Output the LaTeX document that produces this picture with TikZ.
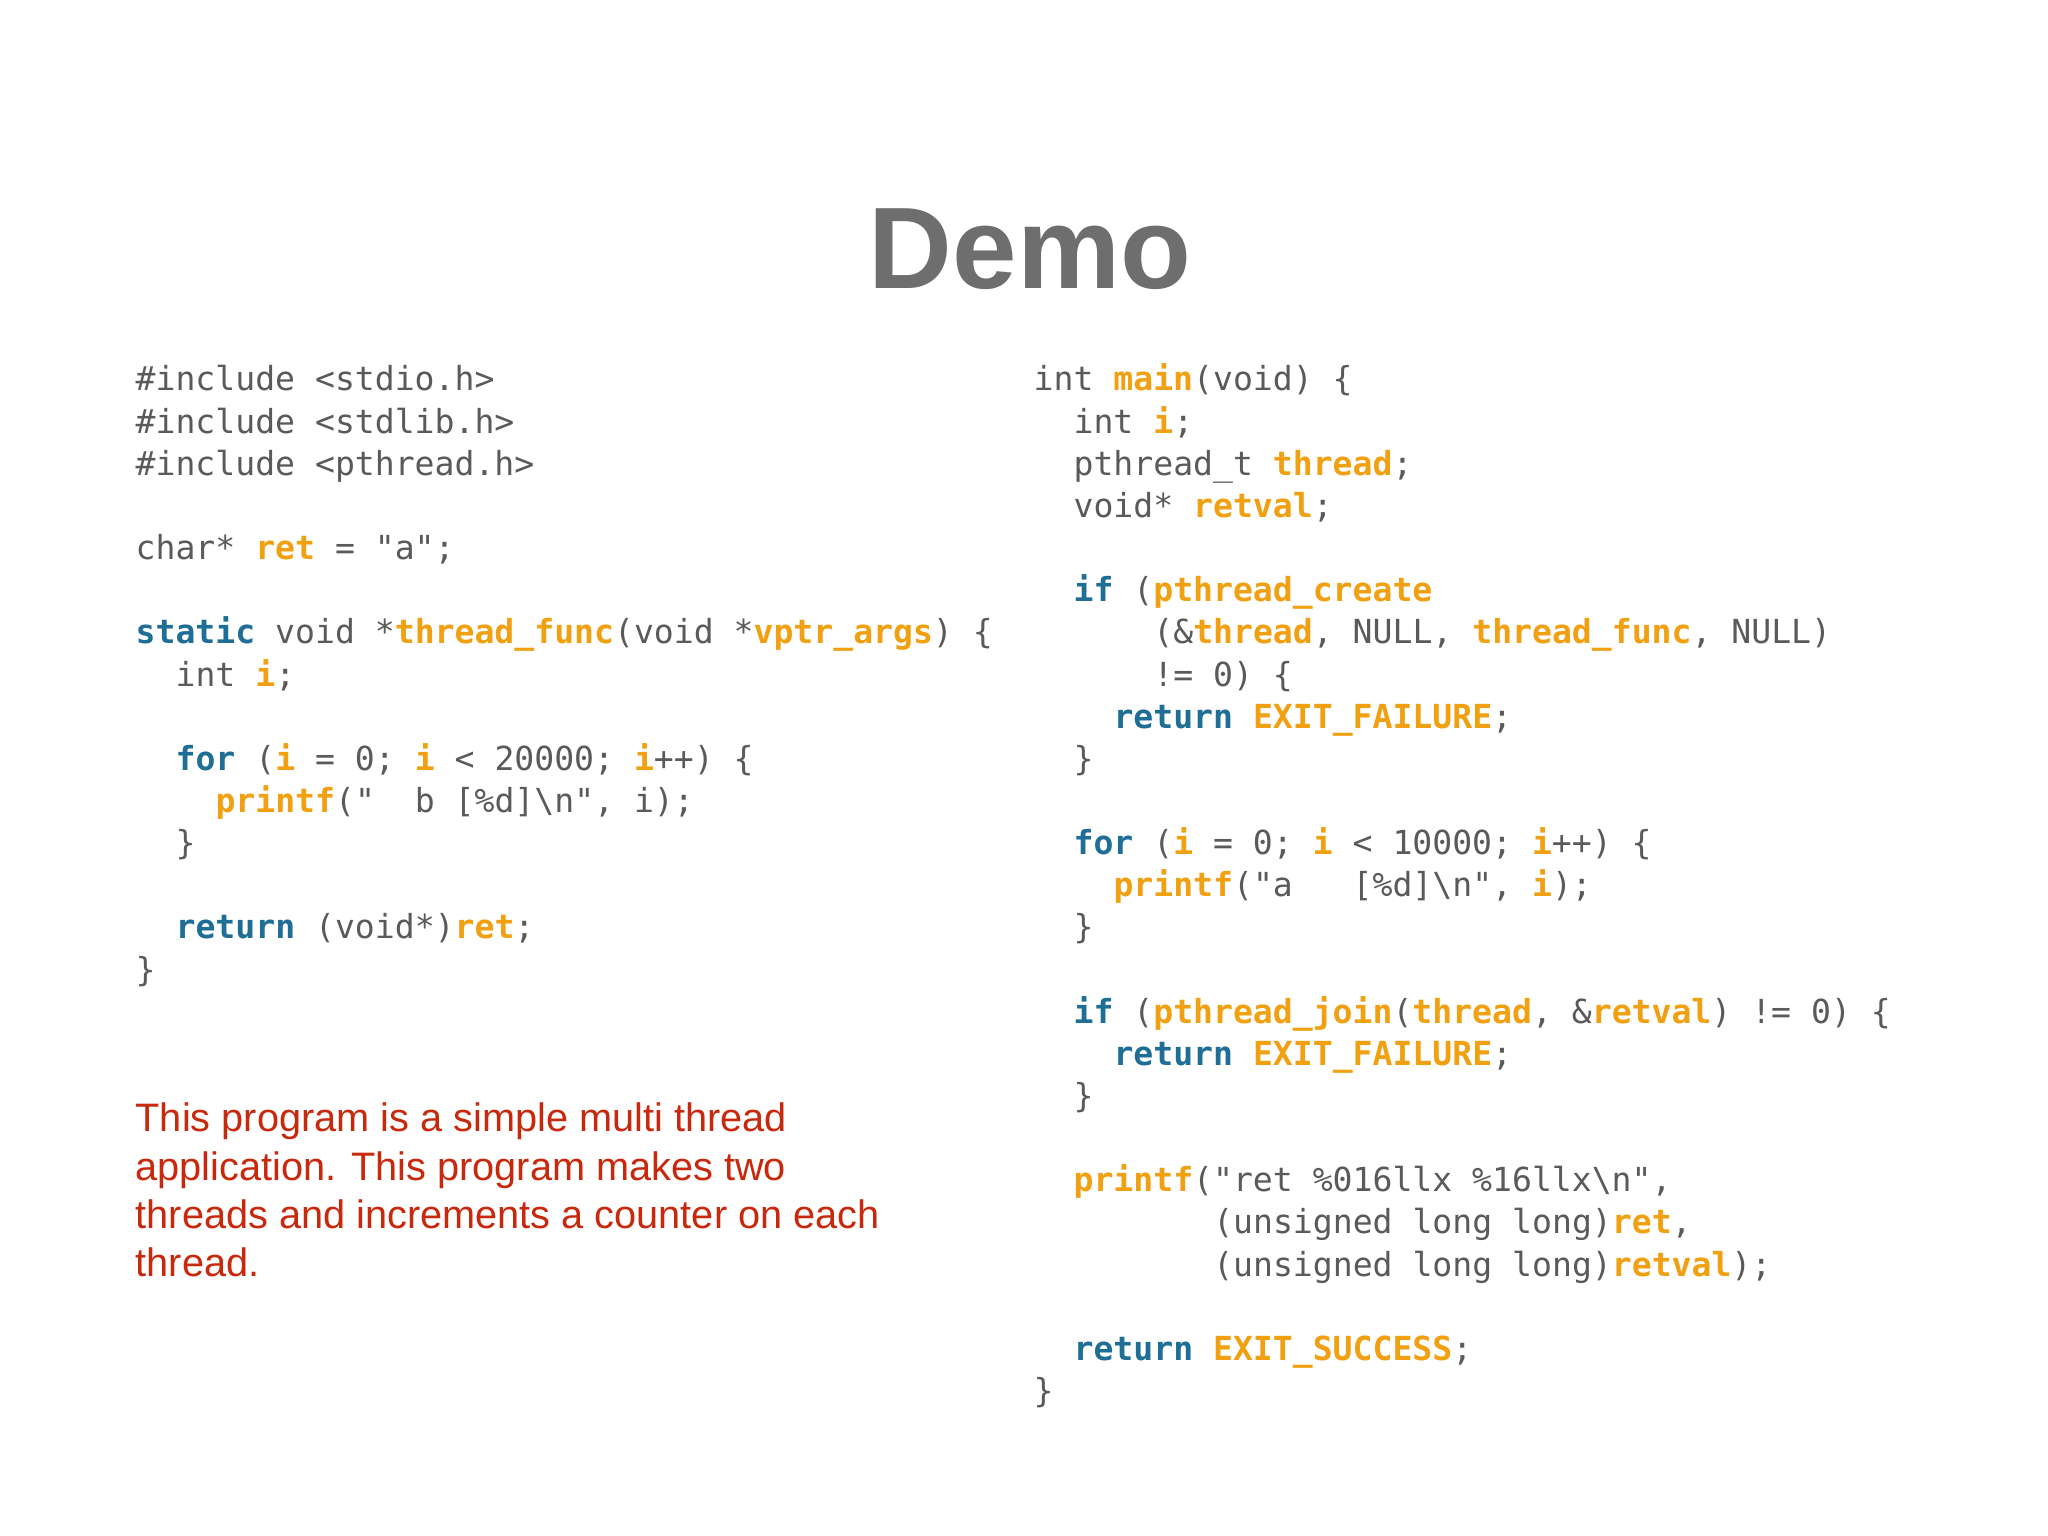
\documentclass[tikz,border=0pt]{standalone}
\usepackage{fontspec}
\setmainfont{Liberation Sans}
\setmonofont{DejaVu Sans Mono}
\definecolor{cgray}{HTML}{5A5A5A}
\definecolor{cblue}{HTML}{1F6E96}
\definecolor{corg}{HTML}{F0A010}
\definecolor{cred}{HTML}{C8280C}
\definecolor{ctitle}{HTML}{6E6E6E}
\newcommand\kw[1]{\textcolor{cblue}{\bfseries #1}}
\newcommand\vr[1]{\textcolor{corg}{\bfseries #1}}
\newcommand\cl[4]{\node[code] (#1) at ({#2},{11.45-0.4215*#3}) {#4};}
\tikzset{code/.style={anchor=base west,inner sep=0pt,font=\fontsize{9.42pt}{12pt}\ttfamily,text=cgray},
 para/.style={anchor=base west,inner sep=0pt,font=\fontsize{11.3pt}{13pt}\selectfont,text=cred}}
\begin{document}
\begin{tikzpicture}
\useasboundingbox (0,0) rectangle (20.48,15.36);
\fill[white] (0,0) rectangle (20.48,15.36);
\node[anchor=base,inner sep=0pt,font=\fontsize{33pt}{40pt}\bfseries\selectfont,text=ctitle] (title) at (10.3,12.47) {Demo};
\def\L{1.35}\def\R{10.33}\def\c{0.1995}
\cl{l0}{\L}{0}{\#include <stdio.h>}
\cl{l1}{\L}{1}{\#include <stdlib.h>}
\cl{l2}{\L}{2}{\#include <pthread.h>}
\cl{l4}{\L}{4}{char* \vr{ret} = "a";}
\cl{l6}{\L}{6}{\kw{static} void *\vr{thread\_func}(void *\vr{vptr\_args}) \{}
\cl{l7}{\L+2*\c}{7}{int \vr{i};}
\cl{l9}{\L+2*\c}{9}{\kw{for} (\vr{i} = 0; \vr{i} < 20000; \vr{i}++) \{}
\cl{l10}{\L+4*\c}{10}{\vr{printf}("\ \ b [\%d]\textbackslash n", i);}
\cl{l11}{\L+2*\c}{11}{\}}
\cl{l13}{\L+2*\c}{13}{\kw{return} (void*)\vr{ret};}
\cl{l14}{\L}{14}{\}}
\cl{r0}{\R}{0}{int \vr{main}(void) \{}
\cl{r1}{\R+2*\c}{1}{int \vr{i};}
\cl{r2}{\R+2*\c}{2}{pthread\_t \vr{thread};}
\cl{r3}{\R+2*\c}{3}{void* \vr{retval};}
\cl{r5}{\R+2*\c}{5}{\kw{if} (\vr{pthread\_create}}
\cl{r6}{\R+6*\c}{6}{(\&\vr{thread}, NULL, \vr{thread\_func}, NULL)}
\cl{r7}{\R+6*\c}{7}{!= 0) \{}
\cl{r8}{\R+4*\c}{8}{\kw{return} \vr{EXIT\_FAILURE};}
\cl{r9}{\R+2*\c}{9}{\}}
\cl{r11}{\R+2*\c}{11}{\kw{for} (\vr{i} = 0; \vr{i} < 10000; \vr{i}++) \{}
\cl{r12}{\R+4*\c}{12}{\vr{printf}("a\ \ \ [\%d]\textbackslash n", \vr{i});}
\cl{r13}{\R+2*\c}{13}{\}}
\cl{r15}{\R+2*\c}{15}{\kw{if} (\vr{pthread\_join}(\vr{thread}, \&\vr{retval}) != 0) \{}
\cl{r16}{\R+4*\c}{16}{\kw{return} \vr{EXIT\_FAILURE};}
\cl{r17}{\R+2*\c}{17}{\}}
\cl{r19}{\R+2*\c}{19}{\vr{printf}("ret \%016llx \%16llx\textbackslash n",}
\cl{r20}{\R+9*\c}{20}{(unsigned long long)\vr{ret},}
\cl{r21}{\R+9*\c}{21}{(unsigned long long)\vr{retval});}
\cl{r23}{\R+2*\c}{23}{\kw{return} \vr{EXIT\_SUCCESS};}
\cl{r24}{\R}{24}{\}}
\node[para] (p1) at (1.35,4.04) {This program is a simple multi thread};
\node[para] (p2) at (1.35,3.558) {application. This program makes two};
\node[para] (p3) at (1.35,3.076) {threads and increments a counter on each};
\node[para] (p4) at (1.35,2.594) {thread.};
\end{tikzpicture}
\end{document}
